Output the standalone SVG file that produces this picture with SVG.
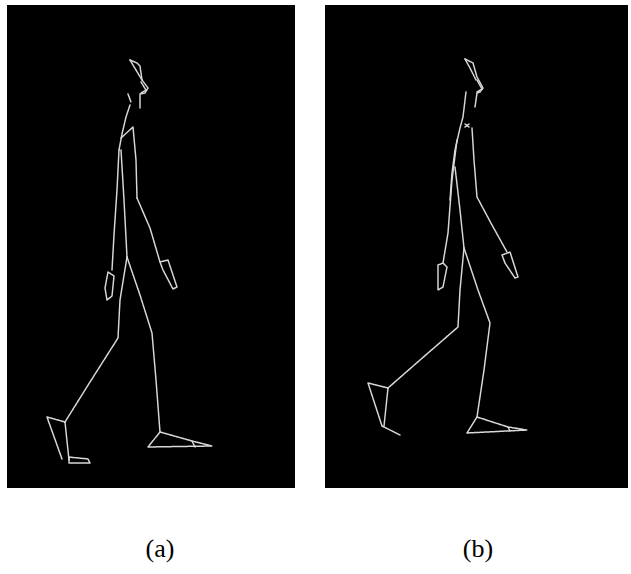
<svg xmlns="http://www.w3.org/2000/svg" width="631" height="574" viewBox="0 0 631 574">
  <style>
    .panel { fill: #000; }
    .bone { fill: none; stroke: #d8d8d8; stroke-width: 1.5; stroke-linejoin: round; stroke-linecap: round; stroke-dasharray: 1.6 0.6; }
    .caption { font-family: "Liberation Serif", "DejaVu Serif", serif; font-size: 26px; fill: #000; text-anchor: middle; }
  </style>
  <rect width="631" height="574" fill="#fff"/>

  <!-- left frame: walker -->
  <g id="frame-a">
    <rect class="panel" x="7" y="5" width="288" height="483"/>
    <g id="figure-a" class="bone">
      <!-- head profile -->
      <polyline points="130,60 137,63 140,66 142,80 148,88 145,93 140,94 140,108"/>
      <polyline points="130,60 136,70 142,80"/>
      <polyline points="141,82 146,90 141,93"/>
      <!-- neck and back -->
      <polyline points="128,94 131,102"/>
      <polyline points="130,105 126,117 122,134 119,150"/>
      <!-- shoulder -->
      <polyline points="121,138 133,127 136,160 137,198"/>
      <!-- front arm and hand -->
      <polyline points="137,198 150,228 160,262"/>
      <polygon points="160,262 168,260 177,287 173,289 163,270"/>
      <!-- back arm and hand -->
      <polyline points="119,150 117,190 114,235 112,270"/>
      <polygon points="108,272 114,276 112,296 107,300 105,288"/>
      <!-- torso to hip -->
      <polyline points="121,150 124,200 127,257"/>
      <!-- front (standing) leg and foot -->
      <polyline points="127,257 140,295 152,333 156,380 160,432"/>
      <polygon points="160,432 148,447 212,446 192,441"/>
      <polyline points="192,441 195,447"/>
      <!-- back (trailing) leg and foot -->
      <polyline points="127,257 120,300 118,338 90,382 65,422"/>
      <polyline points="65,422 47,417 62,459"/>
      <polyline points="65,422 69,460"/>
      <polygon points="69,457 88,459 90,463 69,463"/>
    </g>
  </g>

  <!-- right frame: walker, next pose -->
  <g id="frame-b">
    <rect class="panel" x="325" y="5" width="303" height="483"/>
    <g id="figure-b" class="bone">
      <!-- head profile -->
      <polyline points="465,59 473,63 475,70 477,77 483,88 480,92 477,93 475,107"/>
      <polyline points="465,59 470,68 476,80"/>
      <polyline points="477,80 482,89 477,92"/>
      <!-- back and neck -->
      <polyline points="466,92 463,117 460,128 455,150 452,173 450,200"/>
      <!-- shoulder marker -->
      <polyline points="465,124 469,127"/>
      <polyline points="469,124 465,127"/>
      <!-- front arm and hand -->
      <polyline points="472,128 474,160 477,197 492,225 507,252"/>
      <polygon points="502,255 510,252 518,277 515,278 505,263"/>
      <!-- back arm and hand -->
      <polyline points="457,140 452,180 448,233 443,263"/>
      <polygon points="438,265 443,263 447,267 443,287 438,290"/>
      <!-- torso to hip -->
      <polyline points="455,167 460,210 464,248"/>
      <!-- front (standing) leg and foot -->
      <polyline points="464,248 478,290 490,323 484,370 477,417"/>
      <polygon points="477,417 467,433 527,430 508,427"/>
      <polyline points="508,427 510,431"/>
      <!-- back (trailing) leg and foot -->
      <polyline points="464,248 460,290 458,327 420,360 388,388"/>
      <polyline points="388,388 368,383 382,426"/>
      <polyline points="388,388 384,426"/>
      <polyline points="382,426 400,435"/>
    </g>
  </g>

  <!-- captions -->
  <text class="caption" x="160" y="557">(a)</text>
  <text class="caption" x="478" y="557">(b)</text>
</svg>
